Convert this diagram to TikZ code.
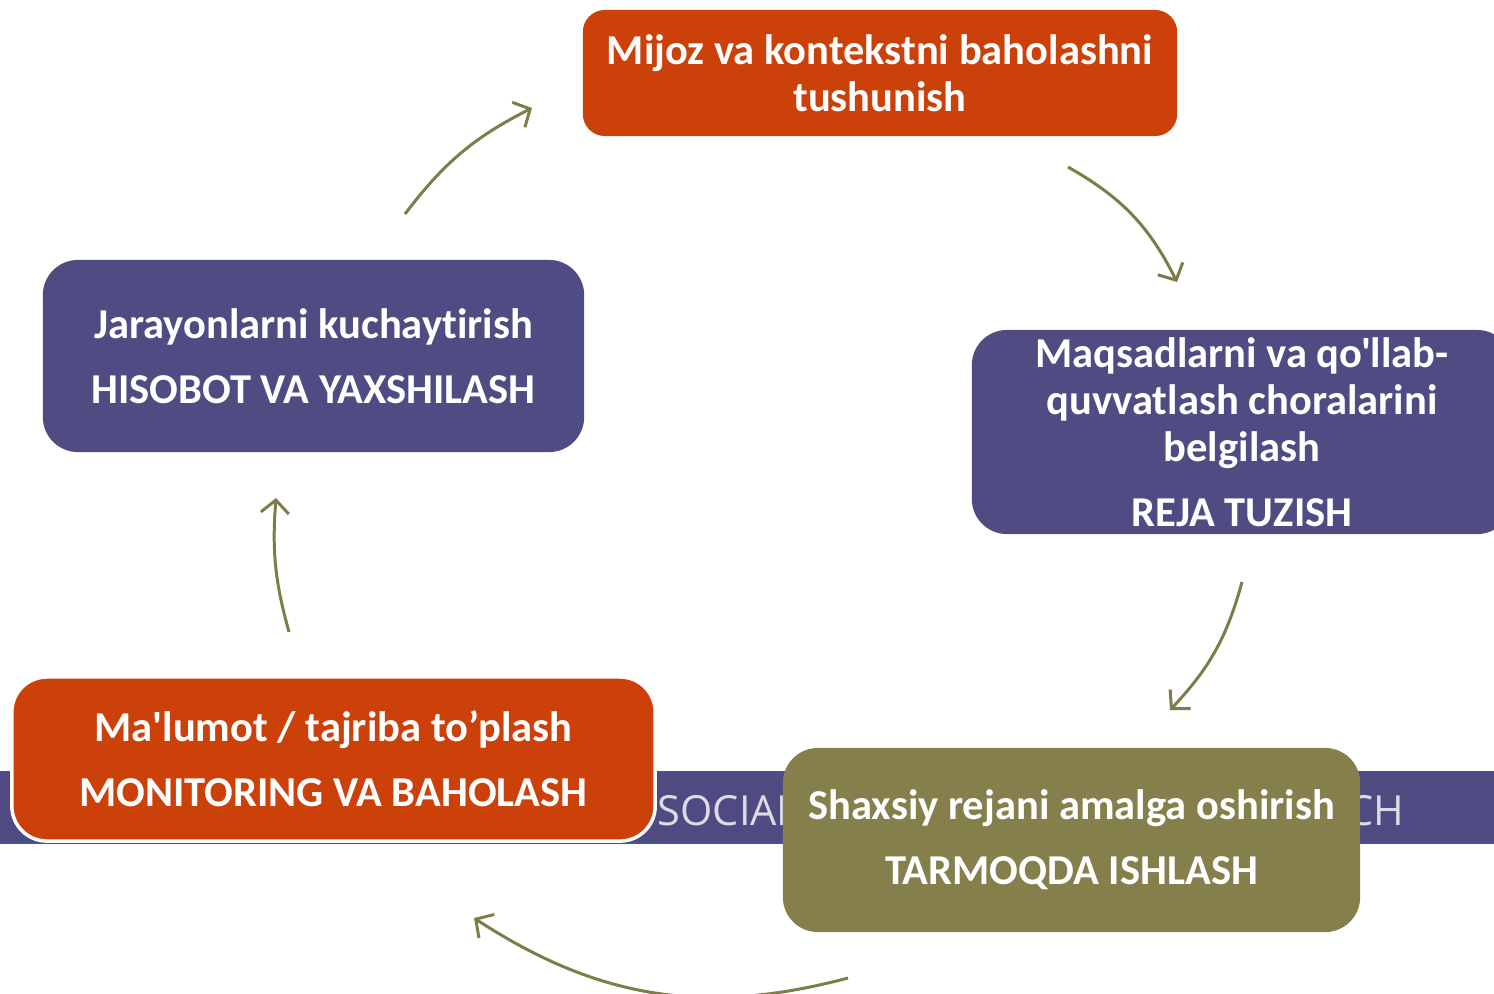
\documentclass[tikz,border=0pt]{standalone}
\usepackage{fontspec}
\setmainfont{Carlito}[Ligatures={TeXOff,NoCommon}]
\newfontfamily\bandfont{Open Sans}
\usetikzlibrary{arrows.meta}
\definecolor{rust}{HTML}{CC4109}
\definecolor{plum}{HTML}{4F4C83}
\definecolor{moss}{HTML}{857F4C}
\definecolor{arrowmoss}{HTML}{7E7D47}
\definecolor{bandblue}{HTML}{4F4A82}
\definecolor{bandline}{HTML}{3F5790}
\begin{document}
\begin{tikzpicture}[x=0.01cm, y=-0.01cm,
    box/.style={rounded corners=0.35cm, text=white, align=center, inner sep=0pt,
        font=\bfseries\fontsize{12.1}{13.4}\selectfont},
    bandtext/.style={text=white!80!bandblue, inner sep=0pt,
        font=\bandfont\fontsize{11.8}{14}\selectfont},
    flow/.style={draw=arrowmoss, line width=0.85pt,
        -{Straight Barb[length=1.3mm, width=2.8mm]}}]
    \useasboundingbox (0,0) rectangle (1494,993);
    \clip (0,0) rectangle (1494,993);
    % background band
    \fill[bandblue, draw=bandline, line width=0.4pt] (-5,772) rectangle (1500,843);
    \node[bandtext, anchor=base west] (social) at (657,825) {SOCIAL};
    \node[bandtext, anchor=base east] (approach) at (1405,825) {CH};
    % the five steps
    \node[box, fill=rust, rounded corners=0.22cm, minimum width=5.94cm, minimum height=1.26cm]
        (assess) at (880,73) {Mijoz va kontekstni baholashni\\tushunish};
    \node[box, fill=plum, minimum width=5.4cm, minimum height=2.04cm]
        (plan) at (1242,432) {Maqsadlarni va qo'llab-\\quvvatlash choralarini\\belgilash\\[5.1pt]REJA TUZISH};
    \node[box, fill=moss, minimum width=5.77cm, minimum height=1.84cm]
        (network) at (1071.5,840) {Shaxsiy rejani amalga oshirish\\[5.1pt]TARMOQDA ISHLASH};
    \node[box, fill=rust, draw=white, line width=1pt, minimum width=6.43cm, minimum height=1.64cm]
        (monitor) at (333.5,759) {Ma'lumot / tajriba to’plash\\[5.1pt]MONITORING VA BAHOLASH};
    \node[box, fill=plum, minimum width=5.41cm, minimum height=1.92cm]
        (improve) at (313.5,356) {Jarayonlarni kuchaytirish\\[5.1pt]HISOBOT VA YAXSHILASH};
    % cycle arrows
    \coordinate (a1s) at (405,214);  \coordinate (a1e) at (532,108);
    \coordinate (a2s) at (1068,167); \coordinate (a2e) at (1177,282);
    \coordinate (a3s) at (1242,582); \coordinate (a3e) at (1170,710);
    \coordinate (a4s) at (848,978);  \coordinate (a4e) at (474,918);
    \coordinate (a5s) at (289,632);  \coordinate (a5e) at (276,498);
    \foreach \from/\to/\bend in {a1s/a1e/13, a2s/a2e/17, a3s/a3e/14, a4s/a4e/24, a5s/a5e/10}
        \draw[flow] (\from) to[bend left=\bend] (\to);
\end{tikzpicture}
\end{document}
